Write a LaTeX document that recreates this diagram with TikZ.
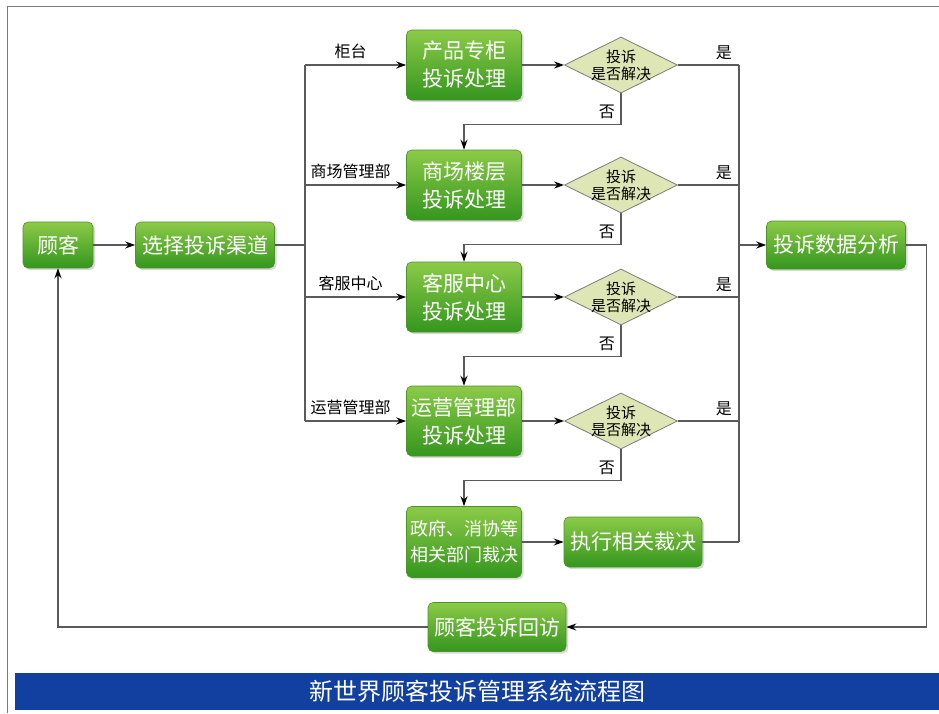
\documentclass[tikz,border=0pt]{standalone}
\usepackage{fontspec}
\setmainfont{Noto Sans CJK SC}
\usetikzlibrary{arrows.meta,shapes.geometric,shadows,positioning}
\definecolor{BoxTopClr}{RGB}{140,202,72}
\definecolor{BoxBotClr}{RGB}{52,150,30}
\definecolor{BoxLineClr}{RGB}{78,148,40}
\definecolor{DecClr}{RGB}{223,230,182}
\definecolor{LineClr}{RGB}{90,90,90}
\definecolor{TitleClr}{RGB}{17,64,160}

\tikzset{
  proc/.style={rectangle,rounded corners=5pt,draw=BoxLineClr,line width=0.6pt,
    top color=BoxTopClr,bottom color=BoxBotClr,text=white,align=center,inner sep=0pt,
    font=\fontsize{21}{28}\selectfont,
    drop shadow={shadow xshift=2pt,shadow yshift=-2pt,fill=black!30}},
  decision/.style={diamond,draw=LineClr!80,fill=DecClr,line width=0.8pt,
    minimum width=113pt,minimum height=56pt,inner sep=0pt},
  dectext/.style={font=\fontsize{15}{17}\selectfont,align=center},
  chanlabel/.style={font=\fontsize{16}{18}\selectfont},
  link/.style={draw=LineClr,line width=1.6pt},
  flow/.style={link,-{Stealth[length=10pt,width=7pt,black]}},
}

\begin{document}
\begin{tikzpicture}[x=1pt,y=-1pt]
\useasboundingbox (0,0) rectangle (939,713);

% frame and title
\draw[LineClr!80,line width=1pt] (7,713) -- (7,6) -- (939,6);
\node[fill=TitleClr,minimum width=925pt,minimum height=37pt,inner sep=0pt,text=white,
  font=\fontsize{24}{26}\selectfont] (title) at (477.5,691.5) {新世界顾客投诉管理系统流程图};

% left part
\node[proc,minimum width=70pt,minimum height=46pt] (cust) at (58,245) {顾客};
\node[proc,minimum width=139pt,minimum height=46pt] (chan) at (205,245) {选择投诉渠道};
\coordinate (busL) at (305,245);
\draw[flow] (cust) -- (chan);
\draw[link] (chan.east) -- (busL);

% the four handling levels
\foreach \i/\y/\chn/\who in {1/65/柜台/产品专柜, 2/185/商场管理部/商场楼层,
    3/297/客服中心/客服中心, 4/421/运营管理部/运营管理部}{
  \node[proc,minimum width=115pt,minimum height=70pt] (h\i) at (464,\y) {\who\\投诉处理};
  \node[decision] (d\i) at (621,\y) {};
  \node[dectext] (dt\i) at (d\i) {投诉\\是否解决};
  \coordinate (bL\i) at (305,\y);
  \coordinate (bR\i) at (739,\y);
  \draw[flow] (bL\i) -- (h\i.west) node[pos=0.45,above=2pt,chanlabel] {\chn};
  \draw[flow] (h\i.east) -- (d\i.west);
  \draw[link] (d\i.east) -- (bR\i) node[pos=1,above left=1pt and 3pt,chanlabel] {是};
}
\draw[link] (bL1) -- (bL4);

% not solved: go one level down
\node[proc,minimum width=115pt,minimum height=71pt,font=\fontsize{18}{26}\selectfont]
  (gov) at (464,542) {政府、消协等\\相关部门裁决};
\node[proc,minimum width=138pt,minimum height=50pt] (exec) at (633,542) {执行相关裁决};
\foreach \i/\j in {1/h2, 2/h3, 3/h4, 4/gov}{
  \draw[flow] (d\i.south) -- ++(0,31) node[pos=0.6,left=2pt,chanlabel] {否} -| (\j.north);
}
\draw[flow] (gov.east) -- (exec.west);

% right bus and feedback loop
\node[proc,minimum width=139pt,minimum height=48pt] (anal) at (836,245) {投诉数据分析};
\node[proc,minimum width=138pt,minimum height=49pt] (visit) at (497,627) {顾客投诉回访};
\coordinate (bR5) at (739,542);
\coordinate (bRa) at (739,245);
\draw[link] (exec.east) -- (bR5);
\draw[link] (bR1) -- (bR5);
\draw[flow] (bRa) -- (anal.west);
\draw[flow] (anal.east) -- ++(20.5,0) |- (visit.east);
\draw[flow] (visit.west) -| (cust.south);

\end{tikzpicture}
\end{document}
